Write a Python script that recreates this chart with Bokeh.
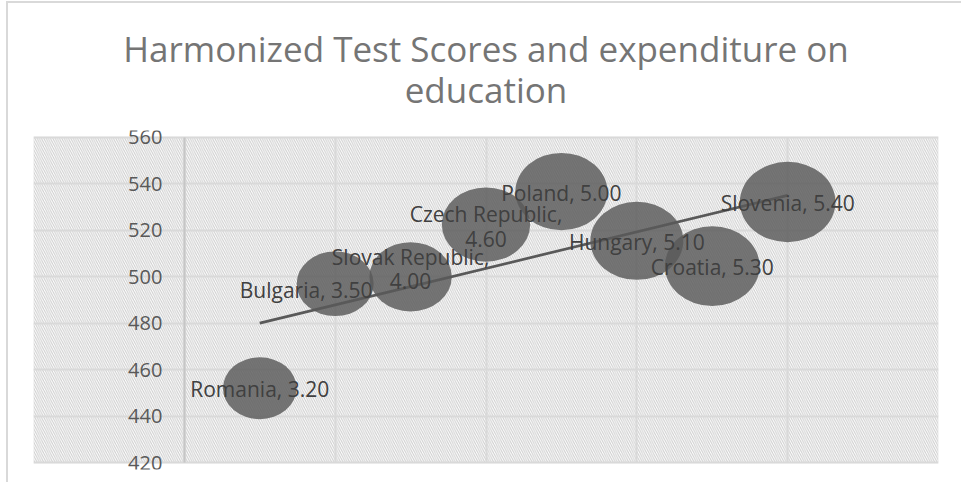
import numpy as np
from bokeh.plotting import figure
from bokeh.models import ColumnDataSource, FixedTicker, BoxAnnotation, Title
from bokeh.core.properties import value
from bokeh.embed import file_html
from bokeh.resources import INLINE

# ---- data ----
countries = ["Romania", "Bulgaria", "Slovak Republic", "Czech Republic",
             "Poland", "Hungary", "Croatia", "Slovenia"]
x_pos = [1, 2, 3, 4, 5, 6, 7, 8]
test_scores = [452.0, 497.0, 500.0, 522.5, 536.7, 515.5, 504.6, 532.2]
expenditure = [3.20, 3.50, 4.00, 4.60, 5.00, 5.10, 5.30, 5.40]
y_ticks = [420, 440, 460, 480, 500, 520, 540, 560]
x_grid_ticks = [-2, 0, 2, 4, 6, 8, 10]
title_lines = ["Harmonized Test Scores and expenditure on", "education"]

# ---- styling ----
FONT = "Open Sans"
BUBBLE_H = 34.6          # screen px of bubble height per sqrt(size)
BUBBLE_ASPECT = 1.19     # bubbles are stretched horizontally
Y_PAD = 3                # room so that edge tick labels are not clipped
label_dx = [0, -29, 0, 0, 0, 0, 0, 0]
label_dy = [1, 6, -8, 2, 1, 1, 1, 1]
GRID = "#d9d9d9"

labels = [f"{c},\n{e:.2f}" if len(c) > 12 else f"{c}, {e:.2f}"
          for c, e in zip(countries, expenditure)]
sq = np.sqrt(np.array(expenditure))
src = ColumnDataSource(dict(
    x=x_pos, y=test_scores, label=labels,
    h=BUBBLE_H * sq, w=BUBBLE_H * BUBBLE_ASPECT * sq,
    dx=label_dx, dy=label_dy,
))

y_lo, y_hi = y_ticks[0], y_ticks[-1]
x_lo, x_hi = x_grid_ticks[0], x_grid_ticks[-1]

p = figure(width=955, height=481, output_backend="svg", toolbar_location=None,
           title=None,
           x_range=(x_lo, x_hi), y_range=(y_lo - Y_PAD, y_hi + Y_PAD),
           min_border_left=25, min_border_right=25,
           min_border_top=127, min_border_bottom=15)
p.styles = {"margin-left": "6px", "margin-top": "1px",
            "border-left": f"2px solid {GRID}", "border-top": f"2px solid {GRID}"}
p.background_fill_color = "white"
p.border_fill_color = "white"
p.outline_line_color = None

# title (two centred lines)
title = Title(text="\n".join(title_lines), align="center", text_align="center",
              text_font=FONT, text_font_size="35px", text_font_style="normal",
              text_color="#757575", text_line_height=0.87, standoff=35)
p.add_layout(title, "above")

# hatched plot area with border
p.add_layout(BoxAnnotation(level="image", top=y_hi, bottom=y_lo,
                           fill_color=None, line_color=GRID, line_width=2,
                           hatch_pattern="left_diagonal_line", hatch_color="#c2c2c2",
                           hatch_scale=4.5, hatch_weight=1, hatch_alpha=0.85))

# axes / grids
p.xaxis.visible = False
p.xgrid.ticker = FixedTicker(ticks=x_grid_ticks)
p.xgrid.cross_bounds = (y_lo, y_hi)
p.ygrid.ticker = FixedTicker(ticks=y_ticks)
for g in (p.xgrid, p.ygrid):
    g.grid_line_color = GRID
    g.grid_line_width = 2

ax = p.yaxis[0]
ax.ticker = FixedTicker(ticks=y_ticks)
ax.fixed_location = 0
ax.bounds = (y_lo, y_hi)
ax.axis_line_color = "#c6c6c6"
ax.axis_line_width = 2
ax.major_tick_line_color = None
ax.minor_tick_line_color = None
ax.major_tick_out = 0
ax.major_tick_in = 0
ax.major_label_standoff = 22
ax.major_label_text_font = FONT
ax.major_label_text_font_size = "20px"
ax.major_label_text_color = "#595959"

# bubbles
p.ellipse(x="x", y="y", width="w", height="h", width_units="screen",
          height_units="screen", source=src, fill_color="#595959",
          fill_alpha=0.82, line_color=None)

# linear trendline
k, b = np.polyfit(x_pos, test_scores, 1)
tx = np.array([min(x_pos), max(x_pos)])
p.line(tx, k * tx + b, line_color="#595959", line_width=2.7)

# data labels
p.text(x="x", y="y", text="label", source=src, x_offset="dx", y_offset="dy",
       text_align="center", text_baseline="middle", text_font=value(FONT),
       text_font_size="21px", text_color="#404040", text_line_height=0.86)

open("out.html", "w").write(file_html(p, INLINE))
